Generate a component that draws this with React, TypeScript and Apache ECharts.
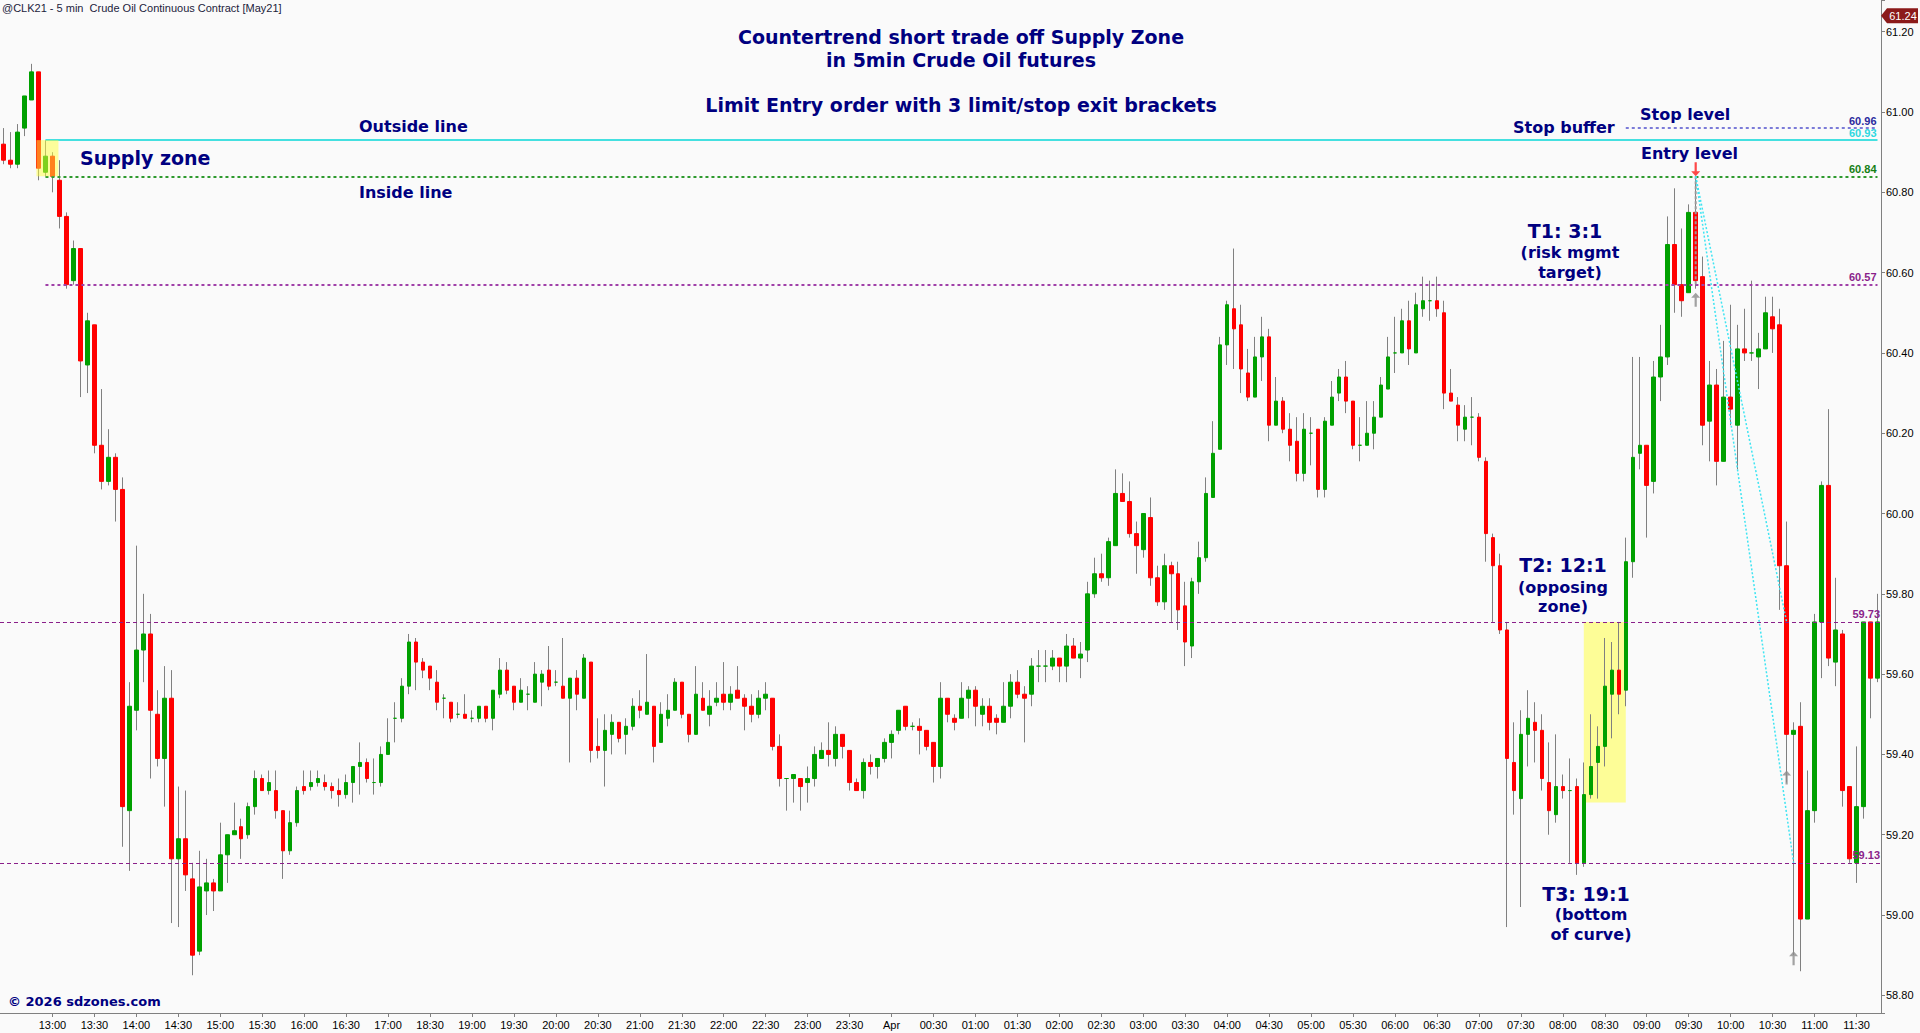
import React, { useEffect, useRef } from 'react';
import * as echarts from 'echarts';

// ---------- OHLC data (5-min bars, 12:25 -> 11:45 next day) ----------
const opens = [
  60.92, 60.88, 60.87, 60.96, 61.03, 61.10, 60.85, 60.89, 60.83, 60.74,
  60.58, 60.66, 60.37, 60.47, 60.17, 60.08, 60.14, 60.06, 59.26, 59.51,
  59.66, 59.70, 59.50, 59.39, 59.54, 59.14, 59.19, 59.09, 58.91, 59.06,
  59.08, 59.06, 59.15, 59.20, 59.22, 59.20, 59.27, 59.34, 59.31, 59.31,
  59.26, 59.16, 59.23, 59.32, 59.32, 59.33, 59.33, 59.32, 59.31, 59.30,
  59.33, 59.37, 59.38, 59.33, 59.33, 59.40, 59.49, 59.49, 59.57, 59.68,
  59.63, 59.62, 59.58, 59.54, 59.53, 59.50, 59.50, 59.49, 59.49, 59.52,
  59.49, 59.55, 59.61, 59.57, 59.53, 59.55, 59.53, 59.58, 59.61, 59.58,
  59.57, 59.54, 59.59, 59.54, 59.63, 59.42, 59.41, 59.45, 59.48, 59.45,
  59.47, 59.52, 59.50, 59.52, 59.43, 59.49, 59.51, 59.58, 59.50, 59.45,
  59.54, 59.50, 59.53, 59.55, 59.53, 59.56, 59.54, 59.52, 59.50, 59.54,
  59.54, 59.42, 59.34, 59.34, 59.34, 59.33, 59.34, 59.39, 59.41, 59.39,
  59.45, 59.41, 59.33, 59.31, 59.38, 59.37, 59.39, 59.43, 59.46, 59.52,
  59.47, 59.47, 59.46, 59.43, 59.37, 59.54, 59.49, 59.49, 59.54, 59.56,
  59.50, 59.52, 59.49, 59.48, 59.52, 59.58, 59.55, 59.55, 59.62, 59.62,
  59.62, 59.64, 59.62, 59.67, 59.64, 59.66, 59.80, 59.85, 59.84, 59.92,
  60.05, 60.03, 59.95, 59.91, 59.99, 59.84, 59.78, 59.87, 59.85, 59.77,
  59.67, 59.83, 59.89, 60.04, 60.16, 60.42, 60.51, 60.47, 60.35, 60.29,
  60.39, 60.44, 60.22, 60.28, 60.21, 60.18, 60.10, 60.20, 60.21, 60.06,
  60.22, 60.30, 60.34, 60.28, 60.17, 60.17, 60.20, 60.24, 60.31, 60.40,
  60.40, 60.48, 60.40, 60.51, 60.53, 60.53, 60.50, 60.30, 60.27, 60.21,
  60.24, 60.24, 60.13, 59.94, 59.87, 59.71, 59.38, 59.29, 59.45, 59.48,
  59.46, 59.33, 59.25, 59.32, 59.31, 59.32, 59.13, 59.30, 59.38, 59.42,
  59.55, 59.61, 59.56, 59.88, 60.15, 60.17, 60.08, 60.34, 60.39, 60.67,
  60.57, 60.55, 60.75, 60.59, 60.23, 60.32, 60.13, 60.29, 60.22, 60.41,
  60.40, 60.39, 60.41, 60.49, 60.47, 59.87, 59.45, 59.47, 58.99, 59.26,
  59.73, 60.07, 59.63, 59.70, 59.32, 59.13, 59.27, 59.73, 59.59,
];
const highs = [
  60.96, 60.95, 60.97, 61.04, 61.12, 61.10, 60.93, 60.90, 60.88, 60.75,
  60.68, 60.66, 60.50, 60.47, 60.31, 60.21, 60.15, 60.09, 59.58, 59.92,
  59.80, 59.75, 59.56, 59.62, 59.61, 59.32, 59.31, 59.13, 59.16, 59.14,
  59.09, 59.23, 59.20, 59.28, 59.24, 59.28, 59.36, 59.35, 59.36, 59.36,
  59.26, 59.26, 59.32, 59.36, 59.36, 59.36, 59.35, 59.33, 59.34, 59.35,
  59.37, 59.43, 59.39, 59.39, 59.42, 59.49, 59.53, 59.59, 59.70, 59.69,
  59.64, 59.62, 59.61, 59.55, 59.53, 59.53, 59.55, 59.51, 59.52, 59.52,
  59.56, 59.64, 59.63, 59.57, 59.59, 59.57, 59.63, 59.61, 59.67, 59.61,
  59.69, 59.59, 59.61, 59.65, 59.63, 59.49, 59.50, 59.50, 59.48, 59.49,
  59.54, 59.56, 59.65, 59.52, 59.53, 59.55, 59.59, 59.58, 59.50, 59.62,
  59.58, 59.56, 59.58, 59.63, 59.57, 59.62, 59.55, 59.55, 59.56, 59.58,
  59.54, 59.45, 59.34, 59.35, 59.34, 59.37, 59.42, 59.43, 59.48, 59.47,
  59.45, 59.41, 59.34, 59.39, 59.40, 59.39, 59.44, 59.46, 59.51, 59.52,
  59.48, 59.49, 59.46, 59.43, 59.58, 59.54, 59.50, 59.58, 59.57, 59.57,
  59.54, 59.54, 59.50, 59.58, 59.60, 59.61, 59.57, 59.64, 59.66, 59.66,
  59.66, 59.64, 59.70, 59.69, 59.68, 59.83, 59.89, 59.90, 59.94, 60.11,
  60.10, 60.08, 59.98, 60.00, 60.04, 59.87, 59.90, 59.88, 59.88, 59.83,
  59.84, 59.93, 60.09, 60.23, 60.44, 60.53, 60.66, 60.52, 60.41, 60.44,
  60.49, 60.46, 60.34, 60.29, 60.25, 60.24, 60.25, 60.24, 60.21, 60.24,
  60.33, 60.36, 60.38, 60.28, 60.24, 60.28, 60.28, 60.34, 60.44, 60.49,
  60.51, 60.53, 60.55, 60.59, 60.58, 60.59, 60.53, 60.36, 60.29, 60.27,
  60.29, 60.25, 60.14, 59.95, 59.90, 59.73, 59.48, 59.51, 59.56, 59.53,
  59.50, 59.43, 59.45, 59.35, 59.39, 59.34, 59.38, 59.50, 59.47, 59.69,
  59.68, 59.73, 59.94, 60.39, 60.39, 60.17, 60.38, 60.47, 60.74, 60.81,
  60.71, 60.77, 60.84, 60.64, 60.38, 60.36, 60.43, 60.52, 60.47, 60.51,
  60.58, 60.45, 60.54, 60.54, 60.51, 59.98, 59.48, 59.53, 59.36, 59.75,
  60.08, 60.26, 59.84, 59.71, 59.32, 59.42, 59.73, 59.73, 59.80,
];
const lows = [
  60.87, 60.86, 60.86, 60.94, 61.03, 60.83, 60.84, 60.80, 60.71, 60.56,
  60.57, 60.29, 60.30, 60.15, 60.06, 60.07, 59.98, 59.17, 59.11, 59.46,
  59.58, 59.34, 59.37, 59.27, 58.98, 58.97, 59.06, 58.85, 58.90, 59.00,
  59.01, 59.06, 59.08, 59.20, 59.14, 59.19, 59.25, 59.31, 59.30, 59.24,
  59.09, 59.15, 59.22, 59.30, 59.31, 59.32, 59.31, 59.29, 59.27, 59.29,
  59.28, 59.30, 59.33, 59.30, 59.32, 59.40, 59.43, 59.48, 59.55, 59.56,
  59.59, 59.56, 59.51, 59.49, 59.48, 59.49, 59.49, 59.48, 59.48, 59.48,
  59.46, 59.54, 59.55, 59.51, 59.53, 59.51, 59.53, 59.52, 59.56, 59.57,
  59.54, 59.38, 59.51, 59.54, 59.38, 59.39, 59.32, 59.40, 59.43, 59.40,
  59.46, 59.49, 59.50, 59.38, 59.43, 59.47, 59.51, 59.49, 59.43, 59.45,
  59.51, 59.47, 59.52, 59.51, 59.51, 59.54, 59.46, 59.48, 59.49, 59.51,
  59.41, 59.32, 59.26, 59.28, 59.26, 59.28, 59.32, 59.39, 59.37, 59.37,
  59.39, 59.31, 59.31, 59.29, 59.35, 59.34, 59.38, 59.39, 59.45, 59.46,
  59.46, 59.40, 59.41, 59.33, 59.34, 59.48, 59.46, 59.49, 59.49, 59.47,
  59.47, 59.46, 59.45, 59.48, 59.49, 59.54, 59.43, 59.52, 59.58, 59.58,
  59.61, 59.58, 59.58, 59.64, 59.59, 59.63, 59.79, 59.83, 59.82, 59.92,
  60.03, 59.94, 59.85, 59.89, 59.82, 59.77, 59.76, 59.73, 59.71, 59.62,
  59.64, 59.80, 59.88, 60.04, 60.16, 60.37, 60.36, 60.30, 60.28, 60.29,
  60.33, 60.18, 60.22, 60.20, 60.13, 60.08, 60.08, 60.12, 60.04, 60.04,
  60.22, 60.28, 60.25, 60.16, 60.13, 60.17, 60.16, 60.24, 60.31, 60.35,
  60.40, 60.37, 60.40, 60.49, 60.48, 60.49, 60.26, 60.28, 60.18, 60.18,
  60.17, 60.13, 59.88, 59.73, 59.70, 58.97, 59.25, 59.02, 59.37, 59.38,
  59.31, 59.20, 59.23, 59.29, 59.13, 59.10, 59.12, 59.29, 59.29, 59.37,
  59.44, 59.50, 59.52, 59.84, 60.11, 59.94, 60.05, 60.28, 60.37, 60.50,
  60.49, 60.55, 60.56, 60.17, 60.13, 60.07, 60.13, 60.22, 60.11, 60.38,
  60.38, 60.31, 60.41, 60.40, 59.76, 59.33, 58.90, 58.86, 58.99, 59.23,
  59.59, 59.62, 59.57, 59.27, 59.13, 59.08, 59.24, 59.49, 59.58,
];
const closes = [
  60.88, 60.87, 60.95, 61.04, 61.10, 60.86, 60.89, 60.84, 60.74, 60.57,
  60.66, 60.38, 60.48, 60.17, 60.08, 60.14, 60.06, 59.27, 59.52, 59.66,
  59.70, 59.51, 59.39, 59.54, 59.14, 59.19, 59.10, 58.90, 59.07, 59.08,
  59.06, 59.15, 59.20, 59.21, 59.19, 59.27, 59.34, 59.31, 59.33, 59.26,
  59.16, 59.23, 59.31, 59.31, 59.33, 59.34, 59.32, 59.31, 59.30, 59.33,
  59.37, 59.38, 59.34, 59.33, 59.40, 59.43, 59.49, 59.57, 59.68, 59.63,
  59.61, 59.59, 59.53, 59.54, 59.49, 59.50, 59.49, 59.49, 59.52, 59.49,
  59.56, 59.61, 59.56, 59.53, 59.56, 59.55, 59.60, 59.60, 59.57, 59.58,
  59.54, 59.59, 59.55, 59.64, 59.41, 59.41, 59.46, 59.48, 59.44, 59.47,
  59.52, 59.51, 59.53, 59.42, 59.50, 59.51, 59.58, 59.50, 59.45, 59.55,
  59.51, 59.52, 59.54, 59.53, 59.55, 59.54, 59.52, 59.50, 59.54, 59.55,
  59.42, 59.34, 59.34, 59.35, 59.32, 59.34, 59.40, 59.41, 59.40, 59.45,
  59.42, 59.33, 59.31, 59.38, 59.37, 59.39, 59.43, 59.45, 59.51, 59.47,
  59.47, 59.46, 59.42, 59.37, 59.54, 59.50, 59.48, 59.54, 59.56, 59.52,
  59.52, 59.48, 59.48, 59.52, 59.58, 59.55, 59.54, 59.62, 59.62, 59.62,
  59.64, 59.62, 59.67, 59.64, 59.65, 59.80, 59.85, 59.84, 59.93, 60.05,
  60.03, 59.95, 59.92, 60.00, 59.84, 59.78, 59.87, 59.85, 59.76, 59.68,
  59.83, 59.89, 60.05, 60.15, 60.42, 60.52, 60.46, 60.36, 60.29, 60.39,
  60.44, 60.22, 60.28, 60.21, 60.17, 60.10, 60.21, 60.20, 60.06, 60.23,
  60.29, 60.34, 60.28, 60.17, 60.17, 60.20, 60.24, 60.32, 60.39, 60.40,
  60.48, 60.41, 60.52, 60.53, 60.53, 60.51, 60.30, 60.28, 60.22, 60.24,
  60.24, 60.14, 59.95, 59.87, 59.71, 59.39, 59.31, 59.45, 59.49, 59.46,
  59.34, 59.26, 59.32, 59.31, 59.31, 59.13, 59.30, 59.37, 59.42, 59.57,
  59.61, 59.55, 59.88, 60.14, 60.17, 60.07, 60.34, 60.39, 60.67, 60.57,
  60.53, 60.75, 60.58, 60.22, 60.32, 60.13, 60.29, 60.26, 60.41, 60.40,
  60.40, 60.41, 60.50, 60.46, 59.87, 59.45, 59.46, 58.99, 59.26, 59.73,
  60.07, 59.64, 59.71, 59.31, 59.14, 59.27, 59.73, 59.59, 59.73,
];

// ---------- session / time axis ----------
const firstBarMinutes = 12 * 60 + 25; // 12:25
const reopenIndex = 56; // first bar after the daily break
const reopenMinutes = 18 * 60 + 5; // 18:05
const firstLabelIndex = 7; // 13:00
const dayChangeLabel = 'Apr';

const pad = (n: number) => (n < 10 ? '0' + n : '' + n);
const categories = opens.map((_, i) => {
  const m = (i < reopenIndex ? firstBarMinutes + 5 * i : reopenMinutes + 5 * (i - reopenIndex)) % 1440;
  return pad(Math.floor(m / 60)) + ':' + pad(m % 60);
});

// ---------- trade levels ----------
const stopLevel = 60.96;
const outsideLine = 60.93;
const entryLevel = 60.84;
const target1 = 60.57;
const target2 = 59.73;
const target3 = 59.13;
const lastPriceTag = 61.24;

const entryBar = 242;
const exitBars = [242, 255, 256];
const exitPrices = [target1, target2, target3];
const exitMarkerPrices = [60.55, 59.36, 58.91];

const supplyZone = [5, 8, outsideLine, entryLevel];
const demandZone = [226, 232, target2, 59.28];
const levelLineStart = 6;
const stopLineStart = 232;

const yMin = 58.756;
const yMax = 61.279;

const NAVY = '#000080';
const FONT = '"DejaVu Sans", Verdana, sans-serif';
const AXFONT = '"Liberation Sans", Arial, sans-serif';

const UP_ARROW = 'path://M4.5,0 L9,5 L5.6,5 L5.6,14 L3.4,14 L3.4,5 L0,5 Z';
const DOWN_ARROW = 'path://M3.4,0 L5.6,0 L5.6,9 L9,9 L4.5,14 L0,9 L3.4,9 Z';

const showTime = (i: number, v: string) => i >= firstLabelIndex && (v.endsWith(':00') || v.endsWith(':30'));

function levelLabel(value: number, color: string) {
  const text = value.toFixed(2);
  return {
    show: true,
    position: 'insideEndTop',
    distance: [1, 2],
    color,
    fontFamily: AXFONT,
    fontSize: 11,
    fontWeight: 'bold',
    formatter: () => text,
  };
}

function buildOption(): any {
  const wickData = opens.map((o, i) => [o, closes[i], lows[i], highs[i]]);
  const bodyData = opens.map((o, i) => [o, closes[i], Math.min(o, closes[i]), Math.max(o, closes[i])]);
  const last = opens.length - 1;

  return {
    animation: false,
    backgroundColor: '#fafafa',
    grid: { left: 0, right: 39, top: 0, bottom: 20, containLabel: false },
    xAxis: {
      type: 'category',
      data: categories,
      boundaryGap: true,
      axisLine: { show: true, lineStyle: { color: '#808080', width: 1 } },
      axisTick: { show: true, alignWithLabel: true, interval: showTime, length: 4, lineStyle: { color: '#808080' } },
      axisLabel: {
        interval: showTime,
        formatter: (v: string) => (v === '00:00' ? dayChangeLabel : v),
        color: '#000',
        fontFamily: AXFONT,
        fontSize: 11,
        margin: 6,
      },
      splitLine: { show: false },
    },
    yAxis: {
      type: 'value',
      position: 'right',
      min: yMin,
      max: yMax,
      splitNumber: 12,
      minInterval: 0.2,
      maxInterval: 0.2,
      axisLine: { show: true, lineStyle: { color: '#808080' } },
      axisTick: { show: true, length: 4, lineStyle: { color: '#808080' } },
      axisLabel: {
        color: '#000',
        fontFamily: AXFONT,
        fontSize: 11,
        margin: 5,
        formatter: (v: number) => (Math.abs(v * 5 - Math.round(v * 5)) < 1e-6 ? v.toFixed(2) : ''),
      },
      splitLine: { show: false },
    },
    series: [
      {
        name: 'levels',
        type: 'line',
        data: closes,
        z: 1,
        silent: true,
        showSymbol: false,
        symbol: 'none',
        lineStyle: { opacity: 0 },
        markArea: {
          silent: true,
          itemStyle: { color: 'rgba(255,255,90,0.62)' },
          data: [
            [{ coord: [demandZone[0], demandZone[2]] }, { coord: [demandZone[1], demandZone[3]] }],
          ],
        },
        markLine: {
          silent: true,
          symbol: ['none', 'none'],
          data: [
            [
              { coord: [stopLineStart, stopLevel], lineStyle: { color: '#7b7bd8', width: 2, type: [3, 3] }, label: levelLabel(stopLevel, '#2b2b9e') },
              { coord: [last, stopLevel] },
            ],
            [
              { coord: [levelLineStart, outsideLine], lineStyle: { color: '#44e0e0', width: 2, type: 'solid' }, label: levelLabel(outsideLine, '#2fd8e0') },
              { coord: [last, outsideLine] },
            ],
            [
              { coord: [levelLineStart, entryLevel], lineStyle: { color: '#2e9a2e', width: 2, type: [3, 3] }, label: levelLabel(entryLevel, '#158015') },
              { coord: [last, entryLevel] },
            ],
            [
              { coord: [levelLineStart, target1], lineStyle: { color: '#a040a8', width: 2, type: [3, 3] }, label: levelLabel(target1, '#8a1f8a') },
              { coord: [last, target1] },
            ],
            { yAxis: target2, lineStyle: { color: '#8a1f8a', width: 1, type: [4, 3] }, label: levelLabel(target2, '#8a1f8a') },
            { yAxis: target3, lineStyle: { color: '#8a1f8a', width: 1, type: [4, 3] }, label: levelLabel(target3, '#8a1f8a') },
          ],
        },
      },
      {
        name: 'wicks',
        type: 'candlestick',
        z: 2,
        silent: true,
        barWidth: 1,
        data: wickData,
        itemStyle: {
          color: '#808080',
          color0: '#808080',
          borderColor: '#808080',
          borderColor0: '#808080',
          borderColorDoji: '#808080',
          borderWidth: 1,
        },
      },
      {
        name: 'bodies',
        type: 'candlestick',
        z: 3,
        silent: true,
        barWidth: 4,
        data: bodyData,
        itemStyle: {
          color: '#00a000',
          color0: '#ff0000',
          borderColor: '#00a000',
          borderColor0: '#ff0000',
          borderColorDoji: '#00a000',
          borderWidth: 1,
        },
      },
      // trade lines (entry -> each exit)
      ...exitBars.map((b, k) => ({
        type: 'line',
        z: 6,
        silent: true,
        symbol: 'none',
        data: [
          [entryBar, entryLevel],
          [b, exitPrices[k]],
        ],
        lineStyle: k === 0
          ? { color: '#9a9a9a', width: 2, type: [3, 2] }
          : { color: '#3ee4f2', width: 1.5, type: [2, 2] },
      })),
      {
        type: 'scatter',
        z: 7,
        silent: true,
        symbol: DOWN_ARROW,
        symbolSize: [9, 14],
        symbolOffset: [0, -7],
        itemStyle: { color: '#ff1a1a' },
        data: [[entryBar, entryLevel]],
      },
      {
        type: 'scatter',
        z: 7,
        silent: true,
        symbol: UP_ARROW,
        symbolSize: [9, 14],
        symbolOffset: [0, 7],
        itemStyle: { color: '#8c8c8c' },
        data: exitBars.map((b, k) => [b, exitMarkerPrices[k]]),
      },
    ],
  };
}

function txt(text: string, x: number, y: number, size: number, align = 'left', weight = 'bold', color = NAVY, family = FONT) {
  return {
    type: 'text',
    x,
    y,
    z: 20,
    silent: true,
    style: {
      text,
      fill: color,
      font: `${weight} ${size}px ${family}`,
      align,
      verticalAlign: 'middle',
      textAlign: align,
      textVerticalAlign: 'middle',
    },
  };
}

export default function App() {
  const ref = useRef<HTMLDivElement>(null);
  useEffect(() => {
    if (!ref.current) return;
    const chart = echarts.init(ref.current, null, { renderer: 'svg' });
    chart.setOption(buildOption());
    const tagY = chart.convertToPixel({ yAxisIndex: 0 }, lastPriceTag) as number;
    // supply zone drawn translucent over the candles, from bar edges
    const [zx0, zy0] = chart.convertToPixel({ gridIndex: 0 }, [supplyZone[0], supplyZone[2]]) as number[];
    const [zx1, zy1] = chart.convertToPixel({ gridIndex: 0 }, [supplyZone[1], supplyZone[3]]) as number[];
    chart.setOption({
      graphic: [
        {
          type: 'rect',
          z: 5,
          silent: true,
          shape: { x: zx0 - 2, y: zy0, width: zx1 - zx0 + 1, height: zy1 - zy0 },
          style: { fill: 'rgba(255,255,60,0.5)' },
        },
        txt('@CLK21 - 5 min  Crude Oil Continuous Contract [May21]', 2, 8, 11, 'left', 'normal', '#1c1c3c', AXFONT),
        txt('Countertrend short trade off Supply Zone', 961, 37, 19, 'center'),
        txt('in 5min Crude Oil futures', 961, 60, 19, 'center'),
        txt('Limit Entry order with 3 limit/stop exit brackets', 961, 105, 19, 'center'),
        txt('Outside line', 359, 126, 16),
        txt('Inside line', 359, 192, 16),
        txt('Supply zone', 80, 158, 19),
        txt('Stop buffer', 1513, 127.5, 16),
        txt('Stop level', 1640, 114, 16),
        txt('Entry level', 1641, 153, 16),
        txt('T1: 3:1', 1565, 230.5, 19, 'center'),
        txt('(risk mgmt', 1570, 252, 16, 'center'),
        txt('target)', 1570, 272, 16, 'center'),
        txt('T2: 12:1', 1563, 564.5, 19, 'center'),
        txt('(opposing', 1563, 587, 16, 'center'),
        txt('zone)', 1563, 606.5, 16, 'center'),
        txt('T3: 19:1', 1586, 893.5, 19, 'center'),
        txt('(bottom', 1591, 914.5, 16, 'center'),
        txt('of curve)', 1591, 934, 16, 'center'),
        txt('\u00a9 2026 sdzones.com', 8, 1001.5, 13),
        {
          type: 'polygon',
          z: 20,
          silent: true,
          shape: {
            points: [
              [1881, tagY],
              [1887, tagY - 7.5],
              [1918, tagY - 7.5],
              [1918, tagY + 7.5],
              [1887, tagY + 7.5],
            ],
          },
          style: { fill: '#8b1a1a' },
        },
        txt(lastPriceTag.toFixed(2), 1903, tagY, 11, 'center', 'normal', '#ffffff', AXFONT),
      ],
    });
    return () => chart.dispose();
  }, []);
  return <div ref={ref} style={{ position: 'fixed', left: 0, top: 0, width: 1920, height: 1033 }} />;
}
